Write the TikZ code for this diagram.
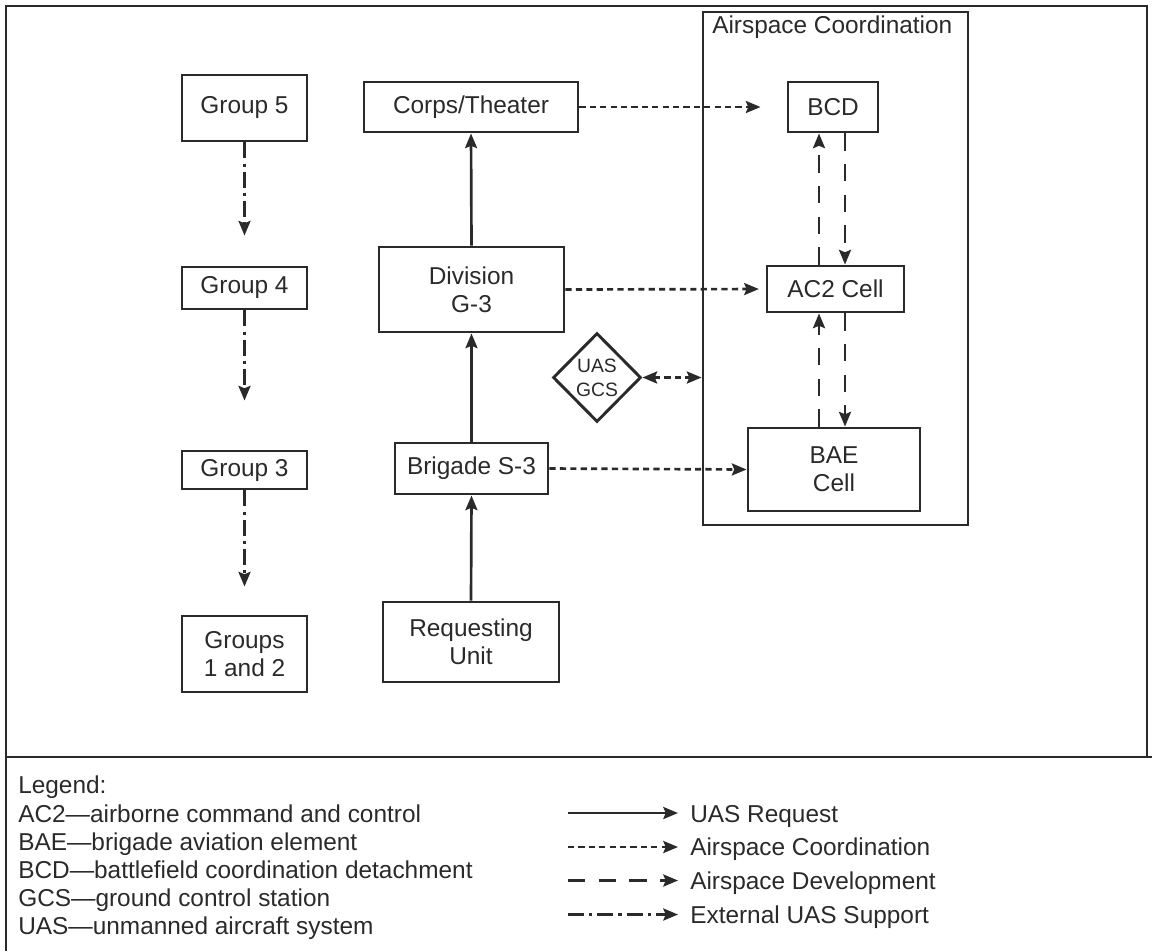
\documentclass[tikz,border=0pt]{standalone}
\usepackage{fontspec}
\setmainfont{Liberation Sans}
\usetikzlibrary{arrows.meta,shapes.geometric}
\definecolor{ink}{HTML}{2A2A2A}
\begin{document}
\begin{tikzpicture}[x=0.75pt,y=-0.75pt,
  txt/.style={text=ink,font=\fontsize{18.3pt}{21pt}\selectfont},
  box/.style={txt,draw=ink,line width=2.2pt,inner sep=0pt,align=center},
  tip/.style={-{Stealth[length=11pt,width=9pt,inset=1.8pt]}},
  link/.style={draw=ink,line width=2pt},
  req/.style={link,tip},
  coord/.style={link,dash pattern=on 4.6pt off 3.2pt,tip},
  coordboth/.style={link,dash pattern=on 4.6pt off 3.2pt,
    {Stealth[length=11pt,width=9pt,inset=1.8pt]}-{Stealth[length=11pt,width=9pt,inset=1.8pt]}},
  devl/.style={link,dash pattern=on 13pt off 10pt,tip},
  ext/.style={link,dash pattern=on 12pt off 3.8pt on 2.4pt off 3.8pt,tip},
  legtxt/.style={txt,inner sep=0pt,anchor=base west}]
\useasboundingbox (0,0) rectangle (1152,951);

% frame and legend divider
\draw[ink,line width=2pt] (6,951) -- (6,6) -- (1147,6) -- (1147,757);
\draw[ink,line width=2.2pt] (6,757) -- (1152,757);

% airspace coordination area
\node[draw=ink,line width=2.2pt,minimum width=198.75pt,minimum height=384.75pt,inner sep=0pt] (air) at (835.5,268.5) {};
\node[txt,anchor=west,inner sep=0pt] (airt) at (712,27) {Airspace Coordination};

% UAS groups
\node[box,minimum width=93.75pt,minimum height=49.5pt] (g5) at (244.5,108) {Group 5};
\node[box,minimum width=93.75pt,minimum height=31.5pt] (g4) at (244.5,288) {Group 4};
\node[box,minimum width=93.75pt,minimum height=28.5pt] (g3) at (244.5,470) {Group 3};
\node[box,minimum width=93.75pt,minimum height=57pt] (g12) at (244.5,654) {Groups\\1 and 2};

% request chain
\node[box,minimum width=160.5pt,minimum height=37.5pt] (corps) at (471,107) {Corps/Theater};
\node[box,minimum width=138.75pt,minimum height=63.75pt] (div) at (471.5,289.5) {Division\\G-3};
\node[box,minimum width=114.75pt,minimum height=38.25pt] (brig) at (471.5,468.5) {Brigade S-3};
\node[box,minimum width=132pt,minimum height=60pt] (ru) at (471,642) {Requesting\\Unit};

% airspace cells
\node[box,minimum width=67.5pt,minimum height=37.5pt] (bcd) at (833,107) {BCD};
\node[box,minimum width=102.75pt,minimum height=34.5pt] (ac2) at (835.5,289) {AC2 Cell};
\node[box,minimum width=129pt,minimum height=62.25pt] (bae) at (834,469.5) {BAE\\Cell};

% ground control station
\node[draw=ink,line width=2.2pt,shape=diamond,aspect=1,inner sep=0pt,
  minimum width=66pt,minimum height=66.75pt,align=center,text=ink,
  font=\fontsize{14.5pt}{18pt}\selectfont] (gcs) at (597,377.5) {UAS\\GCS};

% UAS request
\draw[req] (div.north) -- (corps.south);
\draw[req] (brig.north) -- (div.south);
\draw[req] (ru.north) -- (brig.south);

% airspace coordination
\draw[coord,shorten >=19.5pt] (corps.east) -- (bcd.west);
\draw[coord,shorten >=5pt] (div.east) -- (ac2.west);
\draw[coord] (brig.east) -- (bae.west);
\draw[coordboth] (gcs.east) -- (gcs.east -| air.west);

% airspace development
\coordinate (upx) at (819,0);
\coordinate (dnx) at (845,0);
\draw[devl] (ac2.north -| upx) -- (bcd.south -| upx);
\draw[devl] (bcd.south -| dnx) -- (ac2.north -| dnx);
\draw[devl] (bae.north -| upx) -- (ac2.south -| upx);
\draw[devl] (ac2.south -| dnx) -- (bae.north -| dnx);

% external UAS support
\draw[ext,shorten >=22.5pt] (g5.south) -- (g4.north);
\draw[ext,shorten >=36.75pt] (g4.south) -- (g3.north);
\draw[ext,shorten >=21pt] (g3.south) -- (g12.north);

% legend, abbreviations
\node[legtxt] (lh) at (18,793) {Legend:};
\node[legtxt] (la) at (18,822) {AC2—airborne command and control};
\node[legtxt] (lb) at (18,850) {BAE—brigade aviation element};
\node[legtxt] (lc) at (18,878) {BCD—battlefield coordination detachment};
\node[legtxt] (ld) at (18,906) {GCS—ground control station};
\node[legtxt] (le) at (18,934) {UAS—unmanned aircraft system};

% legend, line kinds
\node[legtxt] (k1) at (690,822) {UAS Request};
\node[legtxt] (k2) at (690,855) {Airspace Coordination};
\node[legtxt] (k3) at (690,889) {Airspace Development};
\node[legtxt] (k4) at (690,923) {External UAS Support};
\coordinate (k1s) at (568,813);
\coordinate (k2s) at (568,847);
\coordinate (k3s) at (568,880.5);
\coordinate (k4s) at (568,914.5);
\draw[req,shorten >=9pt] (k1s) -- (k1s -| k1.west);
\draw[coord,shorten >=9pt] (k2s) -- (k2s -| k2.west);
\draw[devl,shorten >=9pt] (k3s) -- (k3s -| k3.west);
\draw[ext,shorten >=9pt] (k4s) -- (k4s -| k4.west);
\end{tikzpicture}
\end{document}
